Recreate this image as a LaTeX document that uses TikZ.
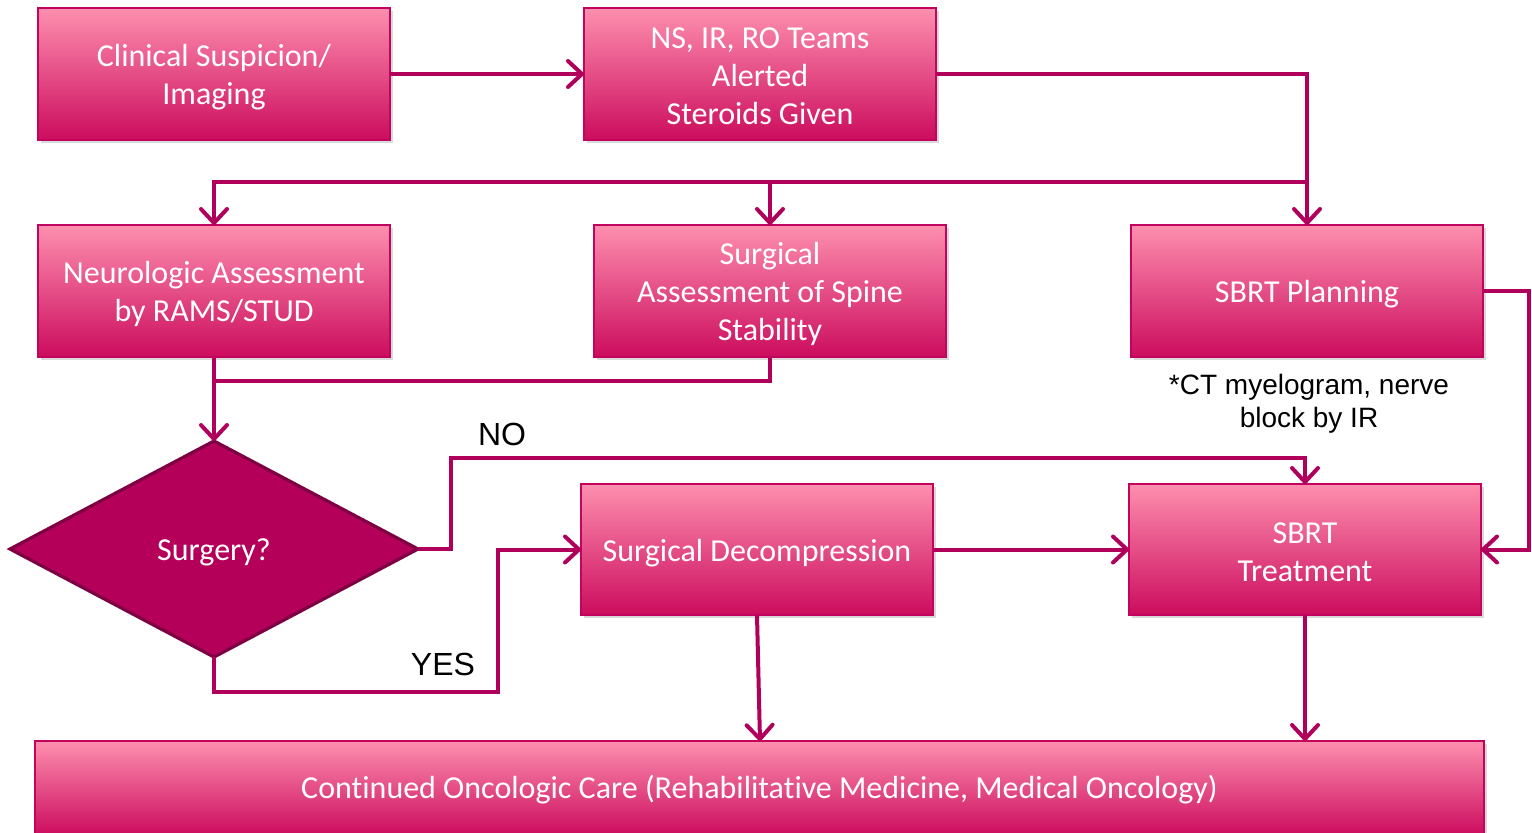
\documentclass[tikz,border=0pt]{standalone}
\usepackage{fontspec}
\setmainfont{Carlito}[Ligatures=NoCommon]
\newfontfamily\arialfont{Liberation Sans}
\usetikzlibrary{arrows.meta,shapes.geometric,shadows}
\definecolor{boxTop}{HTML}{FD8FAE}
\definecolor{boxMid}{HTML}{F0789B}
\definecolor{boxBot}{HTML}{CC0C5E}
\definecolor{boxLine}{HTML}{C2045F}
\definecolor{conn}{HTML}{B0005B}
\definecolor{dfill}{HTML}{B5005A}
\definecolor{dline}{HTML}{7E0042}
\tikzset{
  box/.style={rectangle, draw=boxLine, line width=0.8pt,
    top color=boxTop, middle color=boxMid, bottom color=boxBot,
    inner sep=0pt, outer sep=0pt,
    drop shadow={shadow xshift=1.5pt, shadow yshift=-1.5pt, opacity=0.3}},
  boxtxt/.style={text=white, align=center, inner sep=0pt,
    font=\fontsize{16}{19}\selectfont},
  decision/.style={diamond, draw=dline, line width=1.6pt, fill=dfill,
    inner sep=0pt, outer sep=0pt},
  conline/.style={draw=conn, line width=2pt},
  arr/.style={conline, -{Straight Barb[length=7pt,width=13pt,round]}},
  lbl/.style={font=\arialfont\fontsize{14}{16.5}\selectfont, text=black, align=center, inner sep=0pt},
  biglbl/.style={font=\arialfont\fontsize{16}{19}\selectfont, text=black, inner sep=0pt}
}
\begin{document}
\begin{tikzpicture}[x=0.5pt,y=-0.5pt]
\useasboundingbox (0,0) rectangle (1532,832);
% boxes
\node[box, minimum width=176pt, minimum height=66pt] (A) at (214,74) {};
\node[box, minimum width=176pt, minimum height=66pt] (B) at (760,74) {};
\node[box, minimum width=176pt, minimum height=66pt] (C) at (214,291) {};
\node[box, minimum width=176pt, minimum height=66pt] (D) at (770,291) {};
\node[box, minimum width=176pt, minimum height=66pt] (E) at (1307,291) {};
\node[box, minimum width=176pt, minimum height=65.5pt] (F) at (757,549.5) {};
\node[box, minimum width=176pt, minimum height=65.5pt] (G) at (1305,549.5) {};
\node[box, minimum width=724.5pt, minimum height=47pt] (H) at (759.5,788) {};
\node[decision, minimum width=204pt, minimum height=108pt] (S) at (214,549) {};
% box texts
\node[boxtxt] (At) at ([yshift=-1.6pt]A.center) {Clinical Suspicion/\\Imaging};
\node[boxtxt] (Bt) at ([yshift=-1.2pt]B.center) {NS, IR, RO Teams\\Alerted\\Steroids Given};
\node[boxtxt] (Ct) at ([yshift=-1.6pt]C.center) {Neurologic Assessment\\by RAMS/STUD};
\node[boxtxt] (Dt) at ([yshift=-1.6pt]D.center) {Surgical\\Assessment of Spine\\Stability};
\node[boxtxt] (Et) at ([yshift=-1.6pt]E.center) {SBRT Planning};
\node[boxtxt] (Ft) at ([yshift=-1.6pt]F.center) {Surgical Decompression};
\node[boxtxt] (Gt) at ([yshift=-1.2pt]G.center) {SBRT\\Treatment};
\node[boxtxt] (Ht) at ([yshift=-0.8pt]H.center) {Continued Oncologic Care (Rehabilitative Medicine, Medical Oncology)};
\node[boxtxt] (St) at ([yshift=-1.6pt]S.center) {Surgery?};
% helper coordinates
\coordinate (bus) at (1307,182);
\coordinate (joinD) at (214,381);
\coordinate (noX) at (451,458);
\coordinate (yesY) at (498,692);
\coordinate (rgt) at (1529,291);
\coordinate (fEnd) at (760,741);
% connectors
\draw[arr] (A.east) -- (B.west);
\draw[arr] (B.east) -| (E.north);
\draw[arr] (bus) -| (C.north);
\draw[arr] (bus -| D.north) -- (D.north);
\draw[conline] (D.south) |- (joinD);
\draw[arr] (C.south) -- (S.north);
\draw[arr] (S.east) -| (noX) -| (G.north);
\draw[arr] (S.south) |- (yesY) |- (F.west);
\draw[arr] (F.east) -- (G.west);
\draw[arr] (E.east) -- (rgt) |- (G.east);
\draw[arr] (F.south) -- (fEnd);
\draw[arr] (G.south) -- (G.south |- H.north);
% labels
\node[biglbl] (no) at (502,434) {NO};
\node[biglbl] (yes) at (443,664) {YES};
\node[lbl] (note) at (1309,404) {*CT myelogram, nerve\\block by IR};
\end{tikzpicture}
\end{document}
